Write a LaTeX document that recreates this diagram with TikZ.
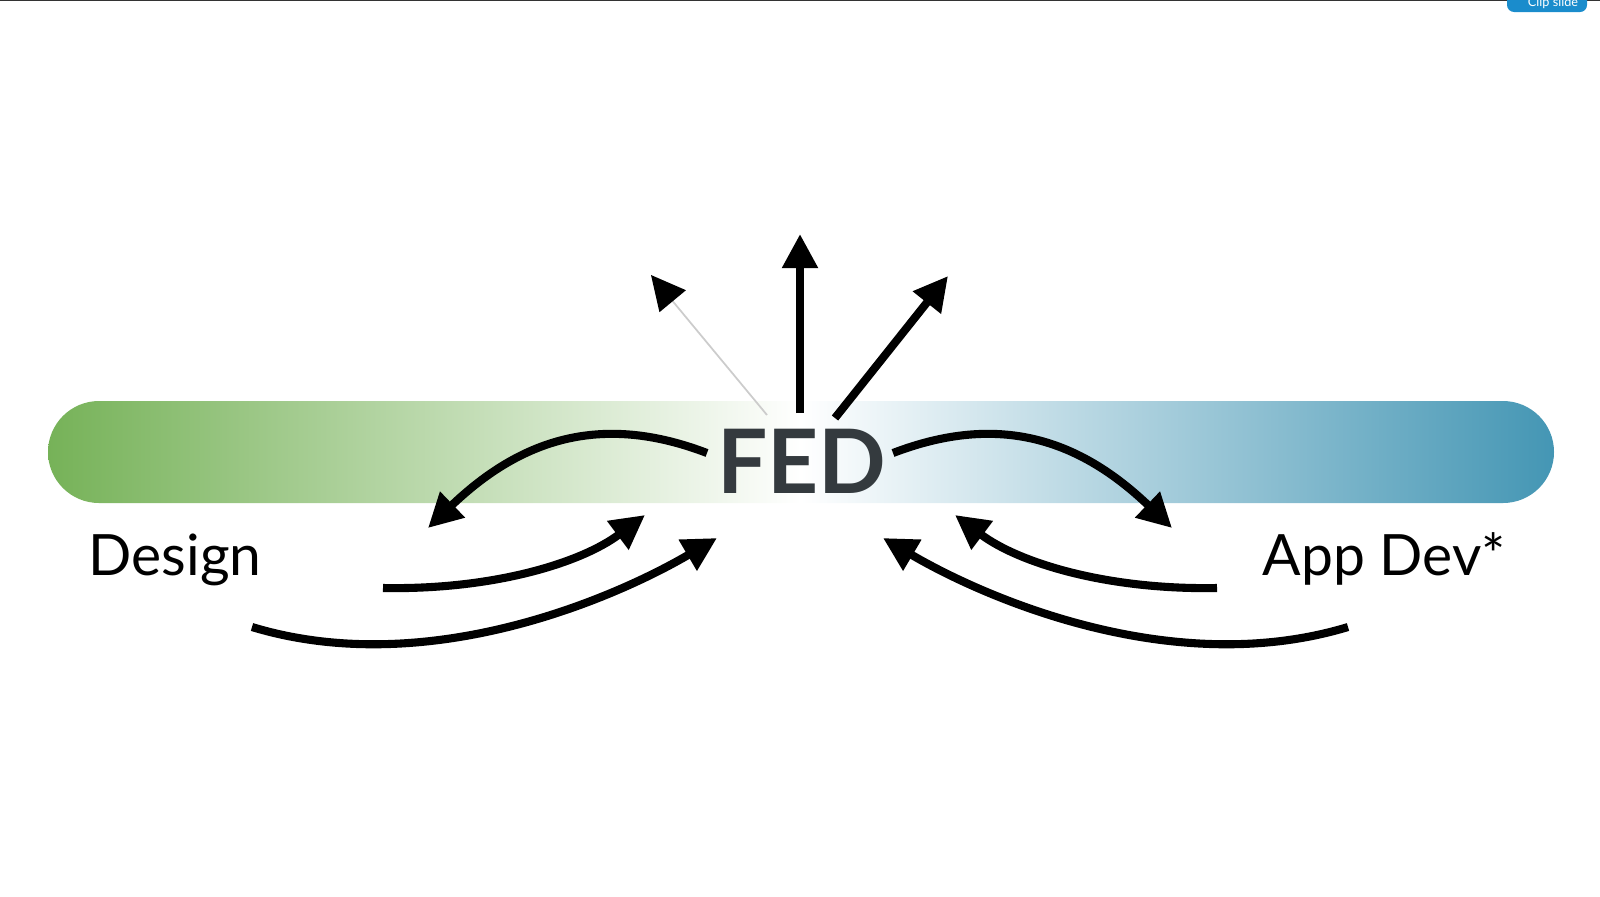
\documentclass[tikz,border=0pt]{standalone}
\usepackage{fontspec}
\setmainfont{Lato}
\usepackage{xcolor}
\usetikzlibrary{arrows.meta}

\definecolor{barGreen}{RGB}{118,178,88}
\definecolor{barTeal}{RGB}{68,150,180}
\definecolor{fedGrey}{RGB}{52,58,62}
\definecolor{clipBlue}{RGB}{26,140,204}

\begin{document}
\begin{tikzpicture}[x=0.01cm,y=-0.01cm,
  flow/.style={line width=2.3pt, line cap=butt, -{Triangle[length=3.4mm,width=3.4mm]}},
  fedtext/.style={inner sep=0pt, text=fedGrey, font=\fontsize{25.3}{30}\selectfont\bfseries},
  sidetext/.style={anchor=base west, inner sep=0pt, font=\fontsize{16.2}{18}\selectfont}]
  \useasboundingbox (0,0) rectangle (1600,896);
  \clip (0,0) rectangle (1600,896);
  % window edge and clip button
  \draw[line width=0.8pt, black!80] (0,0) -- (1600,0);
  \fill[clipBlue, rounded corners=2pt] (1507,-10) rectangle (1587,12);
  \node[text=white, inner sep=0pt, font=\fontsize{3.6}{4}\selectfont] (clip) at (1553,3) {Clip slide};

  % gradient bar
  \shade[left color=barGreen, right color=barTeal, middle color=white, rounded corners=0.51cm]
    (48,401) rectangle (1554,503);

  \node[fedtext] (fed) at (802,461) {FED};
  \node[sidetext] (design) at (88,575) {Design};
  \node[sidetext] (appdev) at (1262,575) {App Dev*};

  % ends of the arrows
  \coordinate (upfoot) at (800,413);
  \coordinate (uptip) at (800,234);
  \coordinate (rfoot) at (835,418);
  \coordinate (rtip) at (948,276);
  \coordinate (lfoot) at (767,415);
  \coordinate (ltip) at (651,275);
  \coordinate (topl) at (707,453);
  \coordinate (topltip) at (428,528);
  \coordinate (topr) at (893,453);
  \coordinate (toprtip) at (1172,528);
  \coordinate (shortl) at (383,588);
  \coordinate (shortltip) at (645,515);
  \coordinate (shortr) at (1217,588);
  \coordinate (shortrtip) at (955,515);
  \coordinate (longl) at (252,627);
  \coordinate (longltip) at (717,538);
  \coordinate (longr) at (1348,627);
  \coordinate (longrtip) at (883,538);

  % out of FED
  \draw[flow] (upfoot) -- (uptip);
  \draw[flow] (rfoot) -- (rtip);
  \draw[black!20, line width=0.5pt, -{Triangle[length=3.4mm,width=3.4mm,color=black]}] (lfoot) -- (ltip);
  \draw[flow] (topl) .. controls (600,412) and (520,440) .. (topltip);
  \draw[flow] (topr) .. controls (1000,412) and (1080,440) .. (toprtip);

  % into FED
  \draw[flow] (shortl) .. controls (493,590) and (581,563) .. (shortltip);
  \draw[flow] (shortr) .. controls (1107,590) and (1019,563) .. (shortrtip);
  \draw[flow] (longl) .. controls (427,680) and (615,598) .. (longltip);
  \draw[flow] (longr) .. controls (1173,680) and (985,598) .. (longrtip);
\end{tikzpicture}
\end{document}
